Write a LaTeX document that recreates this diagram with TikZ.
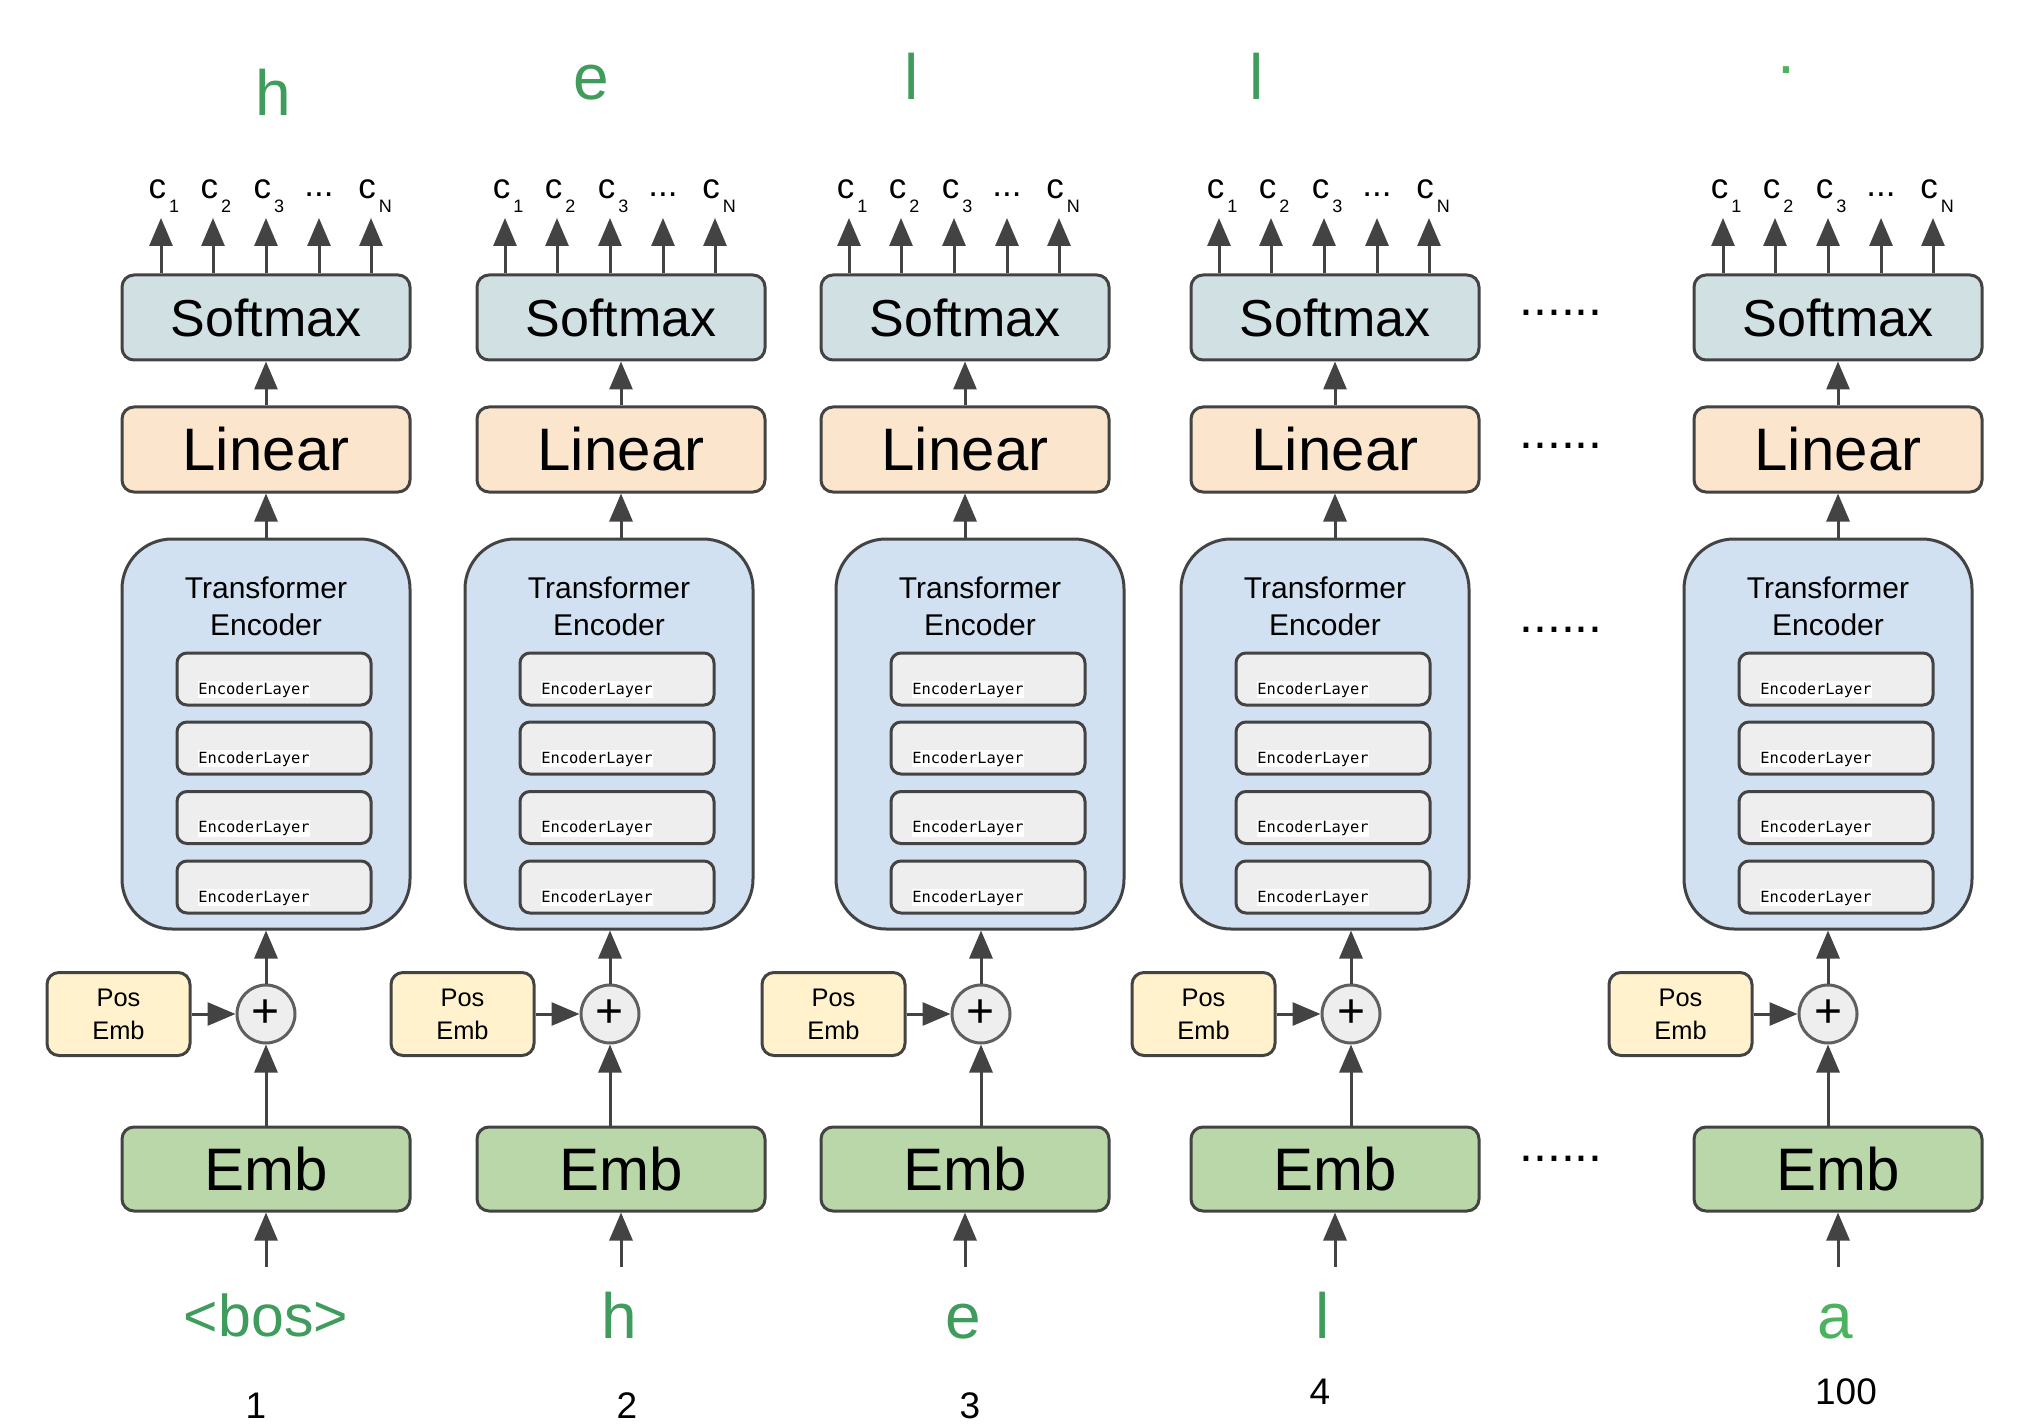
\documentclass[tikz,border=0pt]{standalone}
\usepackage{fontspec}
\setmainfont{Liberation Sans}
\newfontfamily\monof{DejaVu Sans Mono}
\usetikzlibrary{arrows.meta}
\definecolor{bordc}{HTML}{434343}
\definecolor{smfill}{HTML}{D0E0E3}
\definecolor{linfill}{HTML}{FCE5CD}
\definecolor{tefill}{HTML}{D2E1F1}
\definecolor{elfill}{HTML}{EEEEEE}
\definecolor{posfill}{HTML}{FFF2CC}
\definecolor{embfill}{HTML}{B9D7A9}
\definecolor{grn}{HTML}{3F9C5C}
\definecolor{grnb}{HTML}{4BB25E}
\newcommand\fsz[2]{\fontsize{#1}{#2}\selectfont}
\newcommand\csub[1]{c\hspace{1.5pt}\raisebox{-7pt}{\fsz{9pt}{9pt}#1}}
\begin{document}
\begin{tikzpicture}[x=0.5pt,y=-0.5pt,
  box/.style={draw=bordc, line width=1.5pt, rounded corners=6pt, inner sep=0pt, text=black},
  smbox/.style={box, fill=smfill, minimum width=144pt, minimum height=42.5pt, font={\fsz{26pt}{26pt}}},
  linbox/.style={box, fill=linfill, minimum width=144pt, minimum height=42.5pt, font={\fsz{30pt}{30pt}}},
  embbox/.style={box, fill=embfill, minimum width=144pt, minimum height=42pt, font={\fsz{30pt}{30pt}}},
  tebox/.style={box, fill=tefill, rounded corners=25pt, minimum width=144pt, minimum height=195pt},
  tetitle/.style={inner sep=0pt, font={\fsz{15pt}{15pt}}},
  elbox/.style={box, fill=elfill, rounded corners=5pt, minimum width=97pt, minimum height=26pt},
  eltext/.style={fill=white, inner xsep=0pt, inner ysep=0.6pt, font={\monof\fsz{7.7pt}{7.7pt}}},
  posbox/.style={box, fill=posfill, rounded corners=6pt, minimum width=71.5pt, minimum height=41.5pt, align=center, font={\fsz{12.7pt}{16.5pt}}},
  plusc/.style={circle, draw=bordc!85, line width=1.5pt, fill=elfill, minimum size=29pt, inner sep=0pt, font={\fsz{24pt}{24pt}}},
  clab/.style={anchor=base, inner sep=0pt, font={\fsz{17.5pt}{17.5pt}}},
  glab/.style={anchor=base, inner sep=0pt, text=grn, font={\fsz{32pt}{32pt}}},
  numlab/.style={anchor=base, inner sep=0pt, font={\fsz{18.5pt}{18.5pt}}},
  dotlab/.style={anchor=base, inner sep=0pt, font={\fsz{25pt}{25pt}}},
  arr/.style={draw=bordc, line width=1.5pt, -{Triangle[width=11.5pt,length=14pt]}}
]
\useasboundingbox (0,0) rectangle (2018,1428);

% \u: Softmax/Linear/Emb centre, \t: encoder centre, \p: adder centre, \o: output arrows centre
\foreach \i/\u/\t/\p/\o in {1/266/266/266/266, 2/621/609/610/610, 3/965/980/981/954, 4/1335/1325/1351/1324, 5/1838/1828/1828/1828} {
  \node[smbox] (sm\i) at (\u,317.5) {Softmax};
  \node[linbox] (lin\i) at (\u,449.5) {Linear};
  \node[tebox] (te\i) at (\t,734) {};
  \node[tetitle, anchor=base] (tta\i) at (\t,598) {Transformer};
  \node[tetitle, anchor=base] (ttb\i) at (\t,635) {Encoder};
  \foreach \k/\yy in {1/679,2/748,3/817.5,4/887} {
    \node[elbox] (el\i\k) at (\t+8,\yy) {};
    \node[eltext, anchor=base west] (elt\i\k) at (\t-68,\yy+15) {EncoderLayer};
  }
  \node[plusc] (pl\i) at (\p,1014) {+};
  \node[posbox] (pos\i) at (\p-147.5,1014) {Pos\\Emb};
  \node[embbox] (emb\i) at (\u,1169) {Emb};
  \coordinate (in\i) at (\u,1267);
  % connectors
  \draw[arr] (in\i) -- (emb\i.south);
  \draw[arr] (pl\i.south |- emb\i.north) -- (pl\i.south);
  \draw[arr] (pos\i.east) -- (pl\i.west);
  \draw[arr] (pl\i.north) -- (pl\i.north |- te\i.south);
  \draw[arr] (lin\i.south |- te\i.north) -- (lin\i.south);
  \draw[arr] (lin\i.north) -- (sm\i.south);
  \foreach \dx/\nm in {-105/a,-53/b,0/c,53/d,105/e} {
    \coordinate (o\i\nm) at (\o+\dx,218);
    \draw[arr] (sm\i.north -| o\i\nm) -- (o\i\nm);
  }
  \node[clab] (ca\i) at (\o-102,199) {\csub{1}};
  \node[clab] (cb\i) at (\o-50,199) {\csub{2}};
  \node[clab] (cc\i) at (\o+3,199) {\csub{3}};
  \node[clab] (cd\i) at (\o+53,197) {...};
  \node[clab] (ce\i) at (\o+109,199) {\csub{N}};
}

% top outputs
\node[glab] (top1) at (273,116) {h};
\node[glab] (top2) at (591,100) {e};
\node[glab] (top3) at (912,100) {l};
\node[glab] (top4) at (1257,100) {l};
\node[glab, text=grnb] (top5) at (1786,74) {.};

% bottom inputs
\node[glab, font={\fsz{29.5pt}{29.5pt}}] (bot1) at (266,1336) {<bos>};
\node[glab] (bot2) at (619,1338) {h};
\node[glab] (bot3) at (963,1338) {e};
\node[glab] (bot4) at (1323,1338) {l};
\node[glab, text=grnb] (bot5) at (1835,1338) {a};

% positions
\node[numlab] (n1) at (256,1418) {1};
\node[numlab] (n2) at (627,1418) {2};
\node[numlab] (n3) at (970,1418) {3};
\node[numlab] (n4) at (1320,1404) {4};
\node[numlab] (n5) at (1846,1404) {100};

% ellipses between columns
\node[dotlab] (d1) at (1561,316) {......};
\node[dotlab] (d2) at (1561,449) {......};
\node[dotlab] (d3) at (1561,632) {......};
\node[dotlab] (d4) at (1561,1161) {......};
\end{tikzpicture}
\end{document}
